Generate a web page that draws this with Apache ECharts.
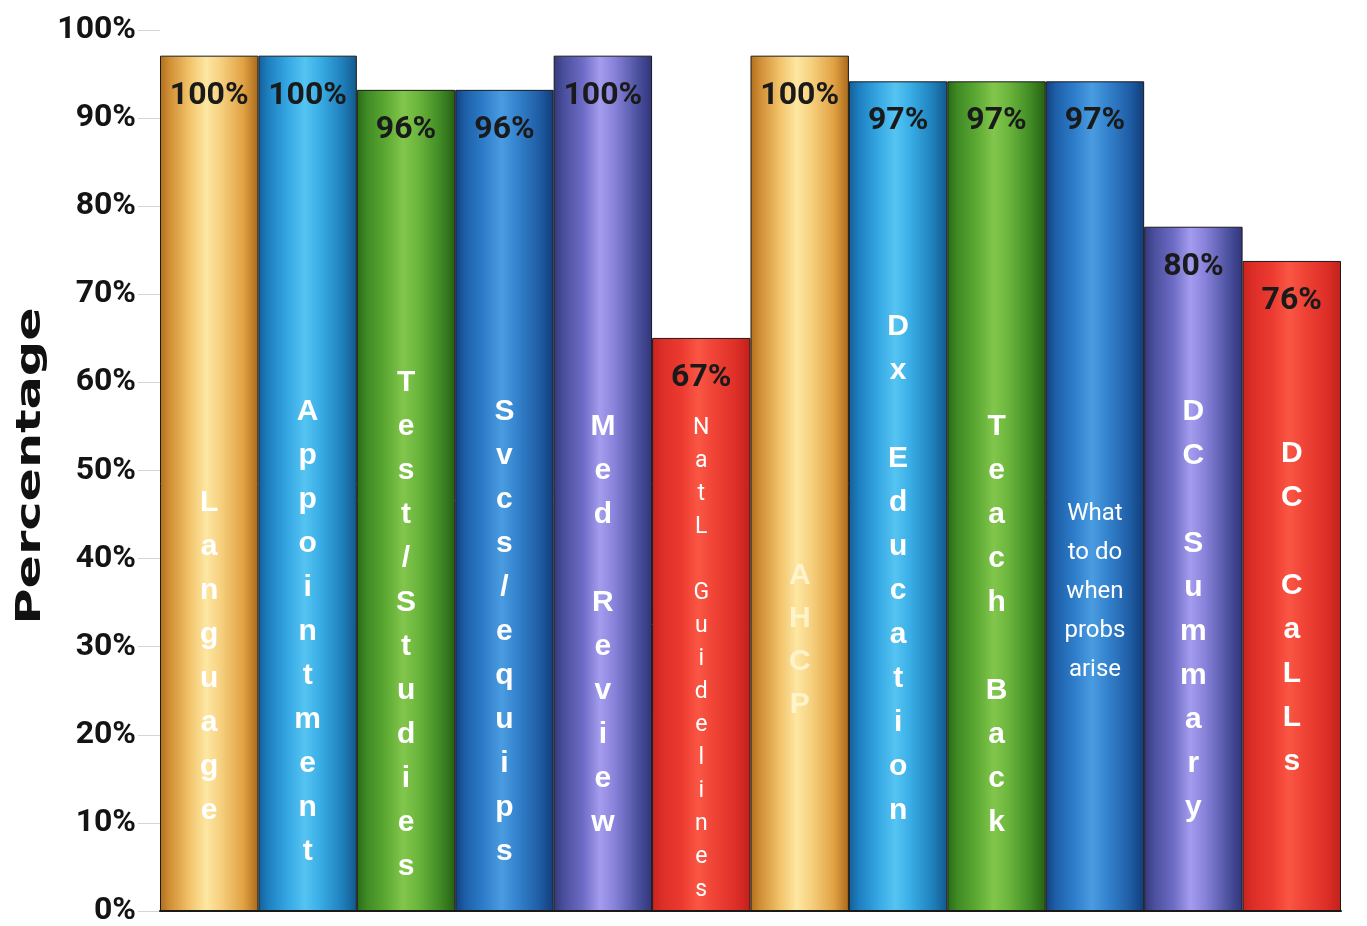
<!DOCTYPE html>
<html><head><meta charset="utf-8">
<script src="https://cdn.jsdelivr.net/npm/echarts@6/dist/echarts.min.js"></script>
<style>html,body{margin:0;padding:0;background:#fff}#c{width:1367px;height:926px}</style>
</head><body><div id="c"></div>
<script>
// ---- data ----
const categories = ['Language','Appointment','Test/Studies','Svcs/equips','Med Review','NatL Guidelines','AHCP','Dx Education','Teach Back','What to do when probs arise','DC Summary','DC CaLLs'];
const values = [100,100,96,96,100,67,100,97,97,97,80,76];
const yTickLabels = ['0%','10%','20%','30%','40%','50%','60%','70%','80%','90%','100%'];
const axisTitle = 'Percentage';

// ---- styles ----
const colorKeys = ['gold','blue','green','blueDark','purple','red','gold','blue','green','blueDark','purple','red'];
const labelModes = ['stack','stack','stack','stack','stack','stackSmall','stackFaint','stack','stack','lines','stack','stack'];
const labelShift = [32,7,0,7,0,34,15,-56,0,-33,-15,-17]; // px, + = down
const palettes = {
  gold:     ['#b06e1c','#d18f36','#f2c36a','#fde7a2','#f6d07e','#e0a143','#a8681a'],
  blue:     ['#145f98','#1d7fc0','#36a8e4','#55c4f2','#3aaee6','#1f80bc','#13598c'],
  blueDark: ['#143f80','#1d5fa8','#2f7fcc','#4a9ce0','#3584cf','#1f5ea6','#123d7a'],
  green:    ['#2a6a16','#3f8a24','#5daa34','#82c64c','#6cb63e','#3f8a24','#275f14'],
  purple:   ['#34387c','#4a4f9c','#6e6cc6','#a49cee','#8882da','#4d52a0','#30347a'],
  red:      ['#c8221e','#dc2e28','#ec3a30','#fa5644','#f04436','#de2f28','#c2201c']
};
function grad(key){
  const c = palettes[key];
  const pos = [0,0.1,0.3,0.47,0.62,0.85,1];
  return new echarts.graphic.LinearGradient(0,0,1,0, c.map((col,i)=>({offset:pos[i],color:col})));
}
const catStyles = {
  stack:      {color:'#fff', fontFamily:'Liberation Sans', fontWeight:'bold', fontSize:30, lineHeight:44},
  stackSmall: {color:'#fff', fontFamily:'Roboto', fontWeight:'normal', fontSize:23, lineHeight:33},
  stackFaint: {color:'rgba(255,248,215,0.8)', fontFamily:'Liberation Sans', fontWeight:'bold', fontSize:30, lineHeight:43},
  lines:      {color:'#fff', fontFamily:'Roboto', fontWeight:'normal', fontSize:24, lineHeight:39}
};
const padRich = {};
labelShift.forEach((d,i)=>{ padRich['p'+i] = {fontSize:1, lineHeight:Math.max(1,2*Math.abs(d))}; });
function catTextStyle(i){
  return Object.assign({verticalAlign:'middle', align:'center'}, catStyles[labelModes[i]]);
}
function wrapWords(s, maxLen){
  const out=[]; let cur='';
  s.split(' ').forEach(w=>{
    if(!cur) cur=w;
    else if((cur+' '+w).length<=maxLen) cur+=' '+w;
    else {out.push(cur); cur=w;}
  });
  if(cur) out.push(cur);
  return out.join('\n');
}
function catLabel(v,i){
  let t = labelModes[i]==='lines' ? wrapWords(v,5) : v.split('').join('\n');
  const d = labelShift[i];
  if(d>0) t = '{p'+i+'| }\n' + t;
  else if(d<0) t = t + '\n{p'+i+'| }';
  return t;
}
const axisMax = 103;      // 100% bars stop short of the top tick in the source
const axisStep = axisMax/10;
const numFont = 'Roboto';

const chart = echarts.init(document.getElementById('c'), null, {renderer:'canvas'});
chart.setOption({
  animation:false,
  backgroundColor:'#ffffff',
  grid:{left:160, right:26, top:30, bottom:15, containLabel:false, outerBoundsMode:'none'},
  xAxis:{
    type:'category',
    data: categories.map((c,i)=>({value:c, textStyle:catTextStyle(i)})),
    axisLine:{show:true, lineStyle:{color:'#1a1a1a', width:2}},
    axisTick:{show:false},
    axisLabel:{
      inside:true, interval:0, margin:286, verticalAlign:'middle', align:'center',
      formatter:catLabel, rich:padRich
    },
    z:10
  },
  yAxis:{
    type:'value', min:0, max:axisMax, interval:axisStep,
    axisLine:{show:false},
    axisTick:{show:true, length:22, lineStyle:{color:'#d4d4d4', width:1}},
    splitLine:{show:false},
    axisLabel:{
      margin:24, color:'#141414', fontFamily:numFont, fontWeight:'bold', fontSize:32,
      formatter:(v)=> yTickLabels[Math.round(v/axisStep)]
    }
  },
  graphic:[{
    type:'text', x:31, y:466, rotation:Math.PI/2, scaleX:1.45,
    style:{text:axisTitle, fill:'#111', font:'bold 34px "DejaVu Sans"', align:'center', verticalAlign:'middle'}
  }],
  series:[{
    type:'bar',
    barCategoryGap:'0%',
    data: values.map((v,i)=>({value:v, itemStyle:{color:grad(colorKeys[i])}})),
    itemStyle:{borderColor:'#1a1a1a', borderWidth:1},
    label:{
      show:true, position:'insideTop', distance:24,
      formatter:(p)=> p.value+'%',
      color:'#1a1a1a', fontFamily:numFont, fontWeight:'bold', fontSize:32
    }
  }]
});
</script></body></html>
